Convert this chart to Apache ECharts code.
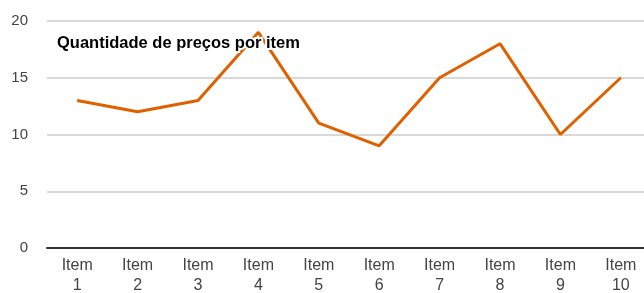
<!DOCTYPE html>
<html>
<head>
<meta charset="utf-8">
<script src="https://cdn.jsdelivr.net/npm/echarts@6/dist/echarts.min.js"></script>
<style>
html, body { margin: 0; padding: 0; background: #fff; }
#chart { width: 644px; height: 293px; }
</style>
</head>
<body>
<div id="chart"></div>
<script>
var categories = ['Item\n1', 'Item\n2', 'Item\n3', 'Item\n4', 'Item\n5', 'Item\n6', 'Item\n7', 'Item\n8', 'Item\n9', 'Item\n10'];
var quantidade = [13, 12, 13, 19, 11, 9, 15, 18, 10, 15];
var yTicks = [0, 5, 10, 15, 20];

var chart = echarts.init(document.getElementById('chart'));
chart.setOption({
	animation: false,
	title: {
		text: 'Quantidade de preços por item',
		left: 54,
		top: 33,
		padding: [2, 3],
		textStyle: {
			fontFamily: 'Liberation Sans',
			fontSize: 16.5,
			fontWeight: 'bold',
			color: '#000',
			textBorderColor: '#fff',
			textBorderWidth: 4
		}
	},
	grid: {
		left: 47,
		width: 604,
		top: 21,
		bottom: 45,
		outerBoundsMode: 'none'
	},
	xAxis: {
		type: 'category',
		data: categories,
		axisLine: { lineStyle: { color: '#333', width: 2 } },
		axisTick: { show: false },
		axisLabel: {
			margin: 8,
			interval: 0,
			lineHeight: 20,
			fontFamily: 'Liberation Sans',
			fontSize: 16,
			color: '#444'
		}
	},
	yAxis: {
		type: 'value',
		min: yTicks[0],
		max: yTicks[yTicks.length - 1],
		interval: 5,
		axisLine: { show: false },
		axisTick: { show: false },
		axisLabel: {
			margin: 19,
			fontFamily: 'Liberation Sans',
			fontSize: 15,
			color: '#444'
		},
		splitLine: { lineStyle: { color: '#ccc', width: 1.5 } }
	},
	series: [{
		name: 'Quantidade',
		type: 'line',
		data: quantidade,
		symbol: 'none',
		lineStyle: { color: '#e06000', width: 3 }
	}]
});
</script>
</body>
</html>
